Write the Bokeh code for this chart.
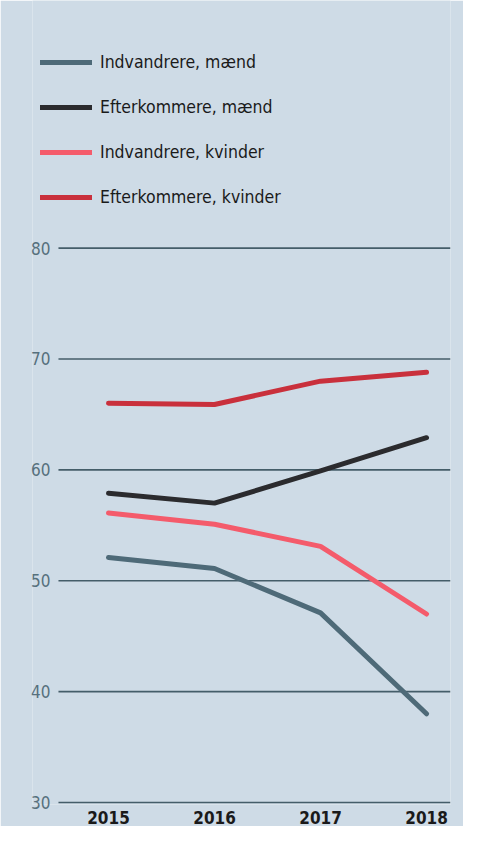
from bokeh.plotting import figure
from bokeh.models import FixedTicker, Legend, LegendItem, Range1d
from bokeh.embed import file_html
from bokeh.resources import INLINE

years = [2015, 2016, 2017, 2018]
indvandrere_maend = [52.1, 51.1, 47.1, 38.0]
efterkommere_maend = [57.9, 57.0, 59.9, 62.9]
indvandrere_kvinder = [56.1, 55.1, 53.1, 47.0]
efterkommere_kvinder = [66.0, 65.9, 68.0, 68.8]
y_ticks = [30, 40, 50, 60, 70, 80]

series = [
    ("Indvandrere, mænd", indvandrere_maend, "#4e6a78"),
    ("Efterkommere, mænd", efterkommere_maend, "#2b2b2e"),
    ("Indvandrere, kvinder", indvandrere_kvinder, "#f45b6b"),
    ("Efterkommere, kvinder", efterkommere_kvinder, "#c9303c"),
]

FONT = "DejaVu Sans Condensed, sans-serif"
BG = "#cedbe6"

X_START, X_END = 2014.283, 2018.226
GRID_X0 = 2014.528   # where the horizontal rules begin (just right of the tick labels)

p = figure(width=463, height=826, output_backend="svg", toolbar_location=None,
           x_range=Range1d(X_START, X_END), y_range=Range1d(29.82, 102.33),
           min_border_left=32, min_border_right=13, min_border_top=0, min_border_bottom=15)
p.background_fill_color = BG
p.border_fill_color = BG
p.outline_line_color = None
p.grid.visible = False

# horizontal rules at the y ticks
p.segment(x0=[GRID_X0] * len(y_ticks), x1=[X_END] * len(y_ticks), y0=y_ticks, y1=y_ticks,
          line_color="#445d69", line_width=1.6, level="underlay")

items = []
for name, vals, col in series:
    r = p.line(years, vals, line_color=col, line_width=5, line_cap="round", line_join="round")
    items.append(LegendItem(label=name, renderers=[r]))

p.yaxis.ticker = FixedTicker(ticks=y_ticks)
p.yaxis.axis_line_color = None
p.yaxis.major_tick_line_color = None
p.yaxis.minor_tick_line_color = None
p.yaxis.major_label_text_font = FONT
p.yaxis.major_label_text_font_size = "17px"
p.yaxis.major_label_text_color = "#56707d"
p.yaxis.major_label_standoff = -24

p.xaxis.ticker = FixedTicker(ticks=years)
p.xaxis.axis_line_color = None
p.xaxis.major_tick_line_color = None
p.xaxis.minor_tick_line_color = None
p.xaxis.major_label_text_font = FONT
p.xaxis.major_label_text_font_size = "17px"
p.xaxis.major_label_text_font_style = "bold"
p.xaxis.major_label_text_color = "#1a1a1a"
p.xaxis.major_label_standoff = 0

legend = Legend(items=items, location=(8, 597), orientation="vertical",
                glyph_width=52, glyph_height=20, label_standoff=8,
                label_height=20, spacing=25, padding=0, margin=0,
                label_text_font=FONT, label_text_font_size="17.5px",
                label_text_color="#1a1a1a",
                background_fill_alpha=0, border_line_color=None)
p.add_layout(legend, "center")

open("out.html", "w").write(file_html(p, INLINE))
